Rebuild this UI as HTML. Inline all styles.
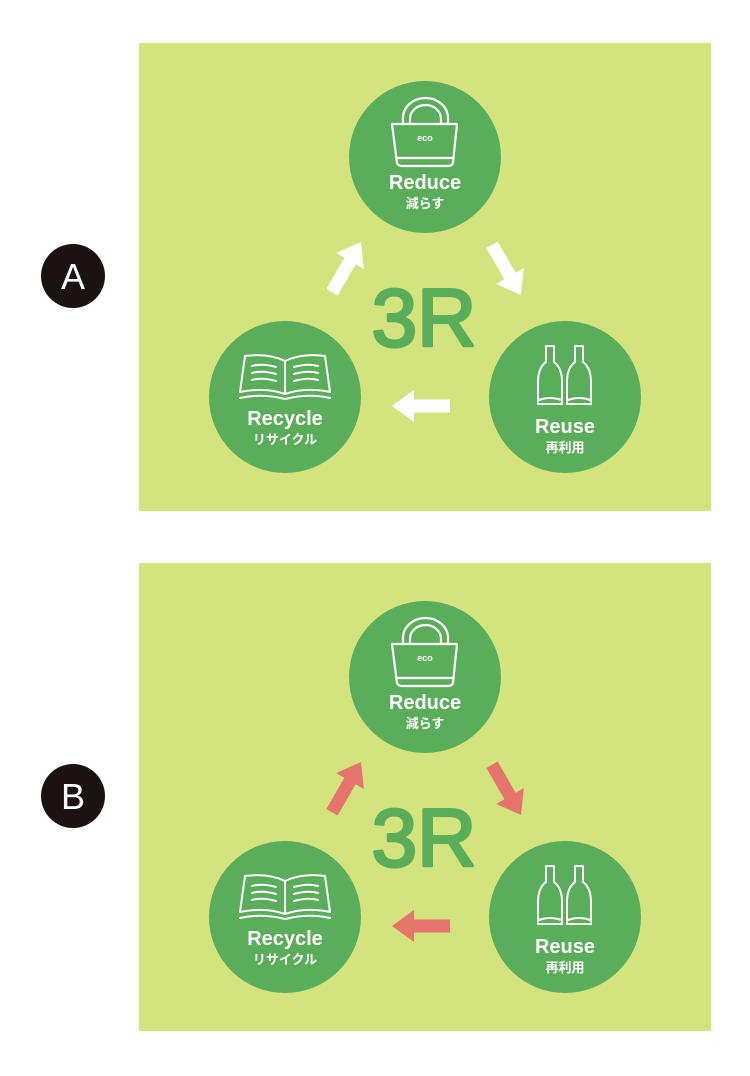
<!DOCTYPE html>
<html><head><meta charset="utf-8"><style>
html,body{margin:0;padding:0;background:#fff;}
svg{display:block}
.t{font-family:"Liberation Sans","Noto Sans CJK JP",sans-serif;fill:#fff;font-weight:bold;text-anchor:middle}
</style></head><body>
<svg width="750" height="1076" viewBox="0 0 750 1076" xmlns="http://www.w3.org/2000/svg">
<defs>
<g id="dia">
  <rect x="139" y="43" width="572" height="468" fill="#d3e37d"/>
  <circle cx="425" cy="157" r="76" fill="#5aad5a"/>
  <circle cx="285" cy="397" r="76" fill="#5aad5a"/>
  <circle cx="565" cy="397" r="76" fill="#5aad5a"/>
  <text x="424" y="346" font-family="Liberation Sans, sans-serif" font-size="82" fill="#5aad5a" stroke="#5aad5a" stroke-width="3" stroke-linejoin="round" text-anchor="middle">3R</text>
  <!-- bag -->
  <g fill="none" stroke="#fff" stroke-width="2.2" stroke-linejoin="round">
    <path d="M403 124 V118 A22.5 20 0 0 1 448 118 V124"/>
    <path d="M410 124 V119 A15.5 14 0 0 1 441 119 V124"/>
    <path d="M392 124 H457 L453 163 Q452 166 448 166 H402 Q398 166 397 163 Z"/>
    <path d="M396 158 H454"/>
  </g>
  <text class="t" x="425" y="141" font-size="9">eco</text>
  <text class="t" x="425" y="189" font-size="20">Reduce</text>
  <text class="t" x="425" y="208" font-size="13">減らす</text>
  <!-- bottles -->
  <g fill="none" stroke="#fff" stroke-width="2" stroke-linejoin="round">
    <path d="M546 346 H554 V362 Q562 368 562 382 V404 H538 V382 Q538 368 546 362 Z"/>
    <path d="M539 400 Q550 396 561 400"/>
    <path d="M575 346 H583 V362 Q591 368 591 382 V404 H567 V382 Q567 368 575 362 Z"/>
    <path d="M568 400 Q579 396 590 400"/>
  </g>
  <text class="t" x="565" y="433" font-size="20">Reuse</text>
  <text class="t" x="565" y="452" font-size="13">再利用</text>
  <!-- book -->
  <g fill="none" stroke="#fff" stroke-width="2" stroke-linejoin="round" stroke-linecap="round">
    <path d="M245 356 Q268 353 285 361 Q302 353 325 356 L330 392 Q305 387 285 394 Q265 387 240 392 Z"/>
    <path d="M285 361 V394"/>
    <path d="M240 398 Q262 393 285 399 Q308 393 330 398"/>
    <path d="M252 366 Q262 363 276 367 M252 373 Q262 370 276 374 M252 380 Q262 377 276 381"/>
    <path d="M294 367 Q308 363 318 366 M294 374 Q308 370 318 373 M294 381 Q308 377 318 380"/>
  </g>
  <text class="t" x="285" y="425" font-size="20">Recycle</text>
  <text class="t" x="285" y="444" font-size="13">リサイクル</text>
</g>
<polygon id="arr" points="0,0 -22,-16 -22,-6.5 -58,-6.5 -58,6.5 -22,6.5 -22,16"/>
</defs>

<use href="#dia"/>
<g fill="#fff">
  <use href="#arr" transform="translate(392,406) rotate(180)"/>
  <use href="#arr" transform="translate(361,242) rotate(-60)"/>
  <use href="#arr" transform="translate(521,295) rotate(60)"/>
</g>
<circle cx="73" cy="276" r="32" fill="#1a1311"/>
<text x="73" y="289" font-family="Liberation Sans, sans-serif" font-size="36" fill="#fff" text-anchor="middle">A</text>

<g transform="translate(0,520)">
<use href="#dia"/>
<g fill="#e5746b">
  <use href="#arr" transform="translate(392,406) rotate(180)"/>
  <use href="#arr" transform="translate(361,242) rotate(-60)"/>
  <use href="#arr" transform="translate(521,295) rotate(60)"/>
</g>
<circle cx="73" cy="276" r="32" fill="#1a1311"/>
<text x="73" y="289" font-family="Liberation Sans, sans-serif" font-size="36" fill="#fff" text-anchor="middle">B</text>
</g>
</svg>
</body></html>
